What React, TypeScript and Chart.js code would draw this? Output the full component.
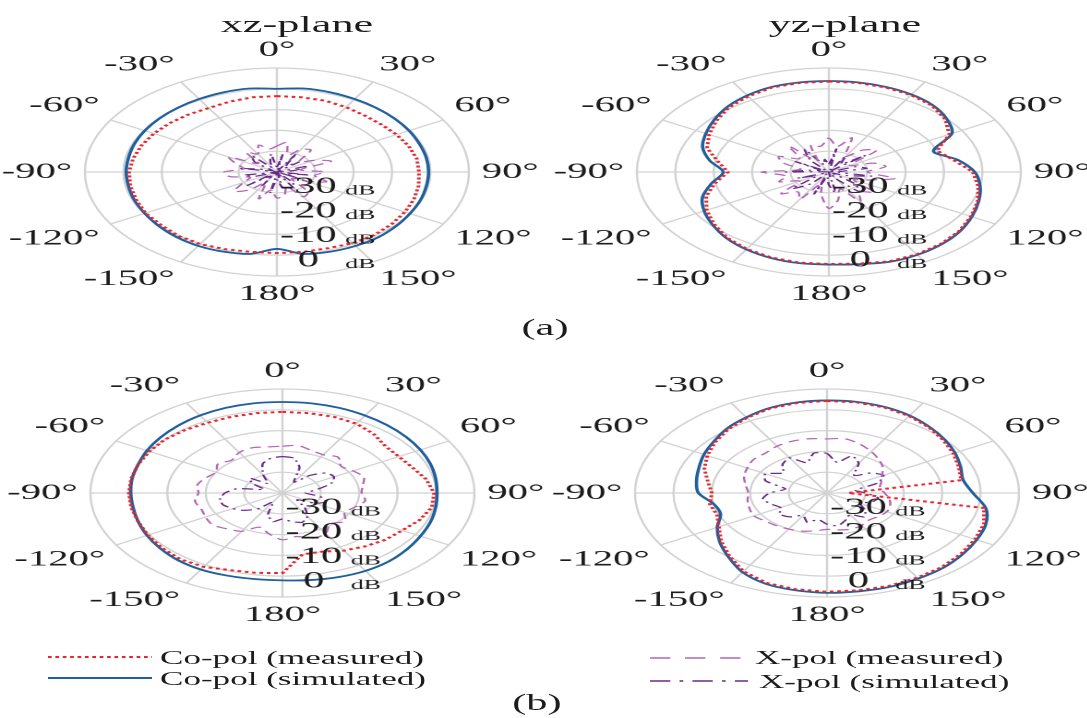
import React, { useEffect, useRef } from 'react';
import { Chart, registerables } from 'chart.js';

Chart.register(...registerables);

// ---------------- data ----------------
const ANGLES = [0, 10, 20, 30, 40, 50, 60, 70, 80, 90, 100, 110, 120, 130, 140, 150, 160, 170, 180,
  -170, -160, -150, -140, -130, -120, -110, -100, -90, -80, -70, -60, -50, -40, -30, -20, -10];
const DB_TICKS = [-30, -20, -10, 0];
const R_MIN = -40;
const R_MAX = 0;
const RING_STEP = 8;

// (a) xz-plane
const xzA_coMeas = [-10.8, -10.8, -10.8, -11.2, -11.6, -11.6, -11.2, -10.8, -10.4, -10.4, -10.0, -9.6, -9.2, -8.8, -8.4, -8.4, -8.8, -8.8, -8.8, -8.8, -8.4, -8.0, -8.0, -8.4, -8.4, -8.8, -9.0, -9.2, -9.6, -10.0, -10.4, -10.8, -11.2, -11.6, -11.2, -10.8];
const xzA_coSim = [-8.0, -7.4, -7.4, -7.6, -7.8, -8.0, -8.2, -8.4, -8.4, -8.4, -8.4, -8.2, -8.0, -7.6, -7.2, -7.2, -7.4, -8.0, -10.4, -8.0, -7.4, -7.2, -7.4, -7.8, -8.2, -8.4, -8.6, -8.6, -8.6, -8.4, -8.2, -8.0, -7.8, -7.6, -7.4, -7.4];
const xzA_xMeas = [-30, -28.5, -33, -30, -29, -34, -31, -28, -35, -30, -32, -29, -33, -36, -30, -29, -34, -31, -30, -33, -29, -35, -31, -28.5, -32, -34, -30, -29, -33, -31, -28.5, -35, -30, -32, -29, -31];
const xzA_xSim = [-38, -33, -39, -32, -37, -34, -40, -33, -36, -39, -33, -38, -32, -40, -35, -33, -39, -34, -37, -32, -40, -34, -38, -32, -39, -35, -33, -40, -32, -37, -39, -34, -32, -38, -36, -33];

// (a) yz-plane
const yzA_coMeas = [-5.2, -5.2, -5.4, -5.8, -6.6, -8.4, -11.0, -16.0, -13.6, -10.0, -8.4, -7.0, -5.8, -4.6, -3.8, -3.4, -3.4, -4.2, -4.6, -4.6, -5.0, -5.8, -7.0, -8.8, -10.6, -12.8, -16.0, -19.0, -16.5, -13.0, -11.2, -9.4, -7.6, -6.4, -5.4, -5.2];
const yzA_coSim = [-5.0, -5.0, -5.2, -5.6, -6.4, -8.0, -10.4, -16.8, -12.8, -9.6, -8.0, -6.8, -5.6, -4.4, -3.6, -3.2, -3.2, -4.0, -4.4, -4.4, -4.8, -5.6, -6.8, -8.4, -10.0, -12.0, -15.2, -18.0, -14.8, -12.0, -10.4, -8.8, -7.2, -6.0, -5.2, -5.0];
const yzA_xMeas = [-27, -30, -26, -33, -29, -27, -35, -30, -28, -32, -26, -31, -34, -28, -30, -27, -33, -29, -26, -31, -35, -28, -30, -27, -33, -29, -31, -26, -34, -30, -28, -32, -27, -35, -29, -30];
const yzA_xSim = [-37, -31, -39, -33, -36, -30, -40, -34, -32, -38, -31, -36, -39, -33, -30, -37, -40, -32, -35, -38, -31, -39, -34, -30, -37, -33, -40, -31, -36, -38, -32, -39, -34, -30, -37, -35];

// (b) xz-plane
const xzB_coMeas = [-8.8, -8.8, -8.8, -9.2, -10.4, -12.0, -12.0, -11.2, -9.6, -8.4, -8.4, -9.6, -11.2, -12.0, -13.2, -14.4, -16.0, -16.0, -9.2, -8.8, -8.4, -7.2, -6.8, -7.2, -7.6, -8.0, -8.0, -8.0, -8.0, -8.0, -8.0, -8.0, -8.4, -8.8, -8.8, -8.8];
const xzB_coSim = [-5.0, -5.0, -5.2, -5.6, -6.0, -6.4, -6.8, -7.2, -7.6, -7.8, -7.6, -7.2, -6.8, -6.2, -5.6, -5.4, -5.6, -6.0, -6.4, -6.4, -6.2, -6.0, -6.2, -6.8, -7.4, -8.0, -8.4, -8.4, -8.2, -8.0, -7.4, -6.8, -6.2, -5.6, -5.2, -5.0];
const xzB_xMeas = [-22, -21.5, -22.5, -23, -22, -24, -23, -22, -23, -23.5, -22.5, -24, -25, -23, -24.5, -22, -21.5, -23, -22, -24, -26, -23, -22, -21, -21.5, -22, -21.5, -22.5, -22, -23, -24, -22.5, -23.5, -22, -21.5, -22];
const xzB_xSim = [-26.0, -26.4, -29.6, -35.2, -31.2, -28.0, -27.6, -29.2, -32.8, -35.2, -32.0, -30.4, -32.0, -36.0, -32.8, -29.6, -28.0, -28.8, -30.0, -28.8, -31.2, -36.0, -32.0, -29.6, -28.0, -26.8, -26.8, -28.0, -30.4, -36.0, -32.8, -31.2, -35.2, -32.0, -28.0, -26.4];

// (b) yz-plane
const yzB_coMeas = [-4.6, -4.6, -5.0, -5.8, -7.0, -8.4, -9.6, -10.8, -11.6, -35.6, -6.8, -5.2, -4.4, -3.6, -2.8, -2.4, -2.0, -2.0, -2.0, -2.4, -3.2, -5.2, -8.4, -11.2, -14.0, -15.6, -15.2, -16.0, -14.8, -12.8, -11.2, -9.6, -8.0, -6.6, -5.4, -4.8];
const yzB_coSim = [-4.4, -4.4, -4.8, -5.6, -6.8, -8.0, -9.2, -10.4, -11.2, -9.6, -6.4, -4.8, -4.0, -3.2, -2.4, -2.0, -1.6, -1.6, -1.6, -2.0, -2.8, -4.8, -8.0, -10.8, -13.6, -16.4, -16.0, -13.2, -12.4, -11.6, -10.4, -9.2, -7.6, -6.4, -5.2, -4.6];
const yzB_xMeas = [-19.2, -18.8, -20.0, -21.6, -23.2, -24.8, -26.8, -28.0, -28.8, -28.0, -26.8, -26.0, -25.6, -26.0, -26.4, -25.6, -25.2, -25.6, -26.0, -25.2, -24.4, -24.0, -23.6, -23.2, -22.4, -22.8, -23.2, -23.6, -22.8, -21.6, -20.8, -20.0, -20.0, -19.2, -18.8, -18.8];
const yzB_xSim = [-24.8, -28.0, -24.8, -26.8, -31.2, -28.0, -26.4, -28.8, -34.0, -32.0, -29.2, -30.0, -32.0, -29.6, -28.0, -30.4, -28.8, -27.2, -28.0, -29.6, -28.0, -30.0, -28.0, -27.2, -28.8, -27.6, -26.4, -28.0, -31.2, -26.4, -25.2, -28.0, -25.6, -24.4, -27.6, -24.4];

const SERIES_NAMES = ['Co-pol (measured)', 'Co-pol (simulated)', 'X-pol (measured)', 'X-pol (simulated)'];

// ---------------- layout / style ----------------
const SERIF = '"Liberation Serif", "Times New Roman", Times, serif';
const STRETCH = 1.846;
const FIG_W = 1087;
const FIG_H = 718;
const BASE_W = FIG_W / STRETCH;
const RADIUS = 104;
const PAD = 50;
const CANVAS = 2 * (RADIUS + PAD);
const TEXT = '#1c1c1c';
const GRID = '#d2d2d2';
const RED = '#e8262c';
const BLUE = '#1f5f9e';
const MAGENTA = '#b565b5';
const PURPLE = '#6a2a8a';

const PLOTS = [
  { id: 'xzA', cx: 276 / STRETCH, cy: 172, series: [xzA_coMeas, xzA_coSim, xzA_xMeas, xzA_xSim] },
  { id: 'yzA', cx: 828 / STRETCH, cy: 172, series: [yzA_coMeas, yzA_coSim, yzA_xMeas, yzA_xSim] },
  { id: 'xzB', cx: 281.5 / STRETCH, cy: 493, series: [xzB_coMeas, xzB_coSim, xzB_xMeas, xzB_xSim] },
  { id: 'yzB', cx: 827 / STRETCH, cy: 493, series: [yzB_coMeas, yzB_coSim, yzB_xMeas, yzB_xSim] },
];

const polarText = {
  id: 'polarText',
  afterDraw(chart: any) {
    const s = chart.scales.r;
    const ctx = chart.ctx;
    ctx.save();
    ctx.fillStyle = TEXT;
    ctx.font = `22px ${SERIF}`;
    ANGLES.forEach((a, i) => {
      if (a % 30 !== 0) return;
      const p = s.getPointPosition(i, s.drawingArea + 7);
      const deg = ((a % 360) + 360) % 360;
      ctx.textAlign = deg === 0 || deg === 180 ? 'center' : deg < 180 ? 'left' : 'right';
      ctx.textBaseline = deg === 90 || deg === 270 ? 'middle' : deg > 270 || deg < 90 ? 'bottom' : 'top';
      ctx.fillText(`${a}°`, p.x, p.y);
    });
    DB_TICKS.forEach((v) => {
      const d = s.getDistanceFromCenterForValue(v);
      const y = s.yCenter + d * 0.94 - 9.5;
      ctx.font = `23px ${SERIF}`;
      ctx.textAlign = 'center';
      ctx.textBaseline = 'middle';
      ctx.fillText(String(v), s.xCenter + 17, y);
      ctx.font = `14px ${SERIF}`;
      ctx.textAlign = 'left';
      ctx.fillText('dB', s.xCenter + 37, y + 4);
    });
    ctx.restore();
  },
};

function buildConfig(series: number[][]): any {
  const styles = [
    { borderColor: RED, borderWidth: 2, borderDash: [2, 2], tension: 0 },
    { borderColor: BLUE, borderWidth: 1.8, borderDash: [], tension: 0.3 },
    { borderColor: MAGENTA, borderWidth: 1.2, borderDash: [6, 4], tension: 0.3 },
    { borderColor: PURPLE, borderWidth: 1.2, borderDash: [6, 3, 1.5, 3], tension: 0.2 },
  ];
  return {
    type: 'radar',
    data: {
      labels: ANGLES.map((a) => `${a}°`),
      datasets: series.map((d, k) => ({
        label: SERIES_NAMES[k],
        data: d,
        fill: false,
        pointRadius: 0,
        pointHoverRadius: 0,
        ...styles[k],
      })),
    },
    options: {
      responsive: false,
      animation: false,
      devicePixelRatio: 2,
      layout: { padding: PAD },
      plugins: { legend: { display: false }, tooltip: { enabled: false } },
      scales: {
        r: {
          min: R_MIN,
          max: R_MAX,
          startAngle: 0,
          ticks: { display: false, stepSize: RING_STEP },
          grid: { circular: true, color: GRID, lineWidth: 1.2 },
          angleLines: {
            color: GRID,
            lineWidth: (ctx: any) => (ANGLES[ctx.index] % 30 === 0 ? 1.2 : 0),
          },
          pointLabels: { display: false },
        },
      },
    },
    plugins: [polarText],
  };
}

function PolarPlot({ series, cx, cy }: { series: number[][]; cx: number; cy: number }) {
  const ref = useRef<HTMLCanvasElement>(null);
  useEffect(() => {
    if (!ref.current) return;
    const chart = new Chart(ref.current, buildConfig(series));
    return () => chart.destroy();
  }, [series]);
  return (
    <canvas
      ref={ref}
      width={CANVAS}
      height={CANVAS}
      style={{ position: 'absolute', left: cx - CANVAS / 2, top: cy - CANVAS / 2 }}
    />
  );
}

function Label({ x, y, size, children, align = 'center', weight = 'normal' }: any) {
  const tx = align === 'center' ? '-50%' : '0';
  return (
    <div
      style={{
        position: 'absolute',
        left: x,
        top: y,
        transform: `translate(${tx}, -50%)`,
        fontSize: size,
        fontWeight: weight,
        whiteSpace: 'nowrap',
        lineHeight: 1,
      }}
    >
      {children}
    </div>
  );
}

export default function App() {
  return (
    <div
      style={{
        position: 'fixed',
        left: 0,
        top: 0,
        width: FIG_W,
        height: FIG_H,
        background: '#fff',
        overflow: 'hidden',
      }}
    >
      <div
        style={{
          position: 'absolute',
          left: 0,
          top: 0,
          width: BASE_W,
          height: FIG_H,
          transform: `scaleX(${STRETCH})`,
          transformOrigin: '0 0',
          fontFamily: SERIF,
          color: TEXT,
        }}
      >
        {PLOTS.map((p) => (
          <PolarPlot key={p.id} series={p.series} cx={p.cx} cy={p.cy} />
        ))}
        <Label x={297 / STRETCH} y={24} size={24}>xz-plane</Label>
        <Label x={845 / STRETCH} y={24} size={24}>yz-plane</Label>
        <Label x={545 / STRETCH} y={327} size={23}>(a)</Label>
        <Label x={537 / STRETCH} y={702} size={23}>(b)</Label>

        <svg
          width={BASE_W}
          height={70}
          style={{ position: 'absolute', left: 0, top: 640 }}
        >
          <line x1={48 / STRETCH} y1={17} x2={152 / STRETCH} y2={17} stroke={RED} strokeWidth={2} strokeDasharray="2 2" />
          <line x1={48 / STRETCH} y1={38} x2={152 / STRETCH} y2={38} stroke={BLUE} strokeWidth={1.8} />
          <line x1={650 / STRETCH} y1={18} x2={755 / STRETCH} y2={18} stroke={MAGENTA} strokeWidth={1.6} strokeDasharray="11 8" />
          <line x1={650 / STRETCH} y1={41} x2={748 / STRETCH} y2={41} stroke={PURPLE} strokeWidth={1.6} strokeDasharray="11 5 2 5" />
        </svg>
        <Label x={160 / STRETCH} y={657} size={19} align="left">Co-pol (measured)</Label>
        <Label x={160 / STRETCH} y={678} size={19} align="left">Co-pol (simulated)</Label>
        <Label x={755 / STRETCH} y={657} size={19} align="left">X-pol (measured)</Label>
        <Label x={759 / STRETCH} y={681} size={19} align="left">X-pol (simulated)</Label>
      </div>
    </div>
  );
}
